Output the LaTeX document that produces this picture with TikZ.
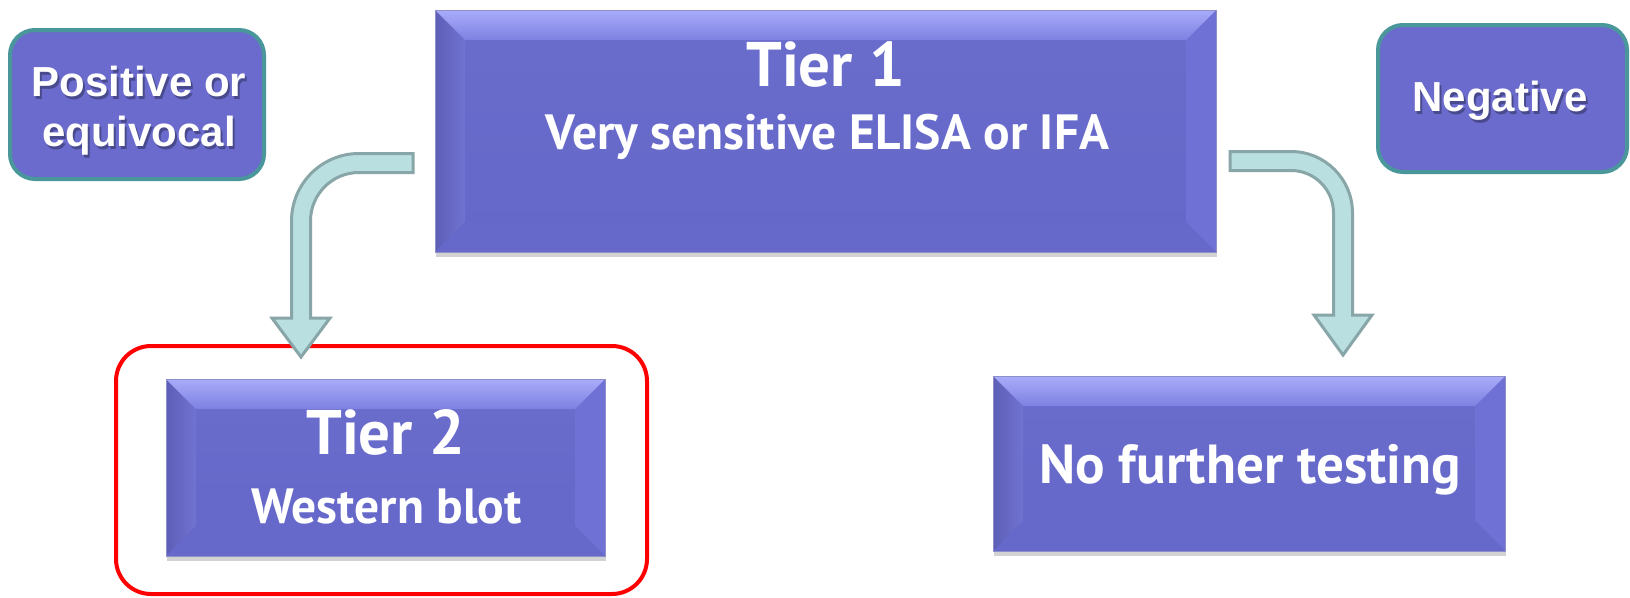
\documentclass[tikz,border=0pt]{standalone}
\usepackage{fontspec}
\usetikzlibrary{calc,shadows}
\newfontfamily\tierfont{PT Sans}
\newfontfamily\outfont{Liberation Sans}

\definecolor{tierfill}{HTML}{6B6DCC}
\definecolor{tierlow}{HTML}{6567C9}
\definecolor{tieredge}{HTML}{8E8FC8}
\definecolor{bevhi}{HTML}{A9ACFA}
\definecolor{bevtop}{HTML}{7E81E0}
\definecolor{bevleft}{HTML}{5D5EB6}
\definecolor{bevlefti}{HTML}{7173D1}
\definecolor{bevright}{HTML}{6F71D5}
\definecolor{bevbot}{HTML}{6668CA}
\definecolor{outfill}{HTML}{6A6BCC}
\definecolor{outedge}{HTML}{4A979B}
\definecolor{arrowfill}{HTML}{B9DFE1}
\definecolor{arrowedge}{HTML}{88A6A7}

\tikzset{
	tierbox/.style={rectangle, top color=tierfill, bottom color=tierlow, draw=tieredge, line width=0.8pt, inner sep=0pt,
		drop shadow={shadow xshift=1pt, shadow yshift=-5pt, opacity=0.25, fill=black!70},
		path picture={
			\coordinate (bsw) at (path picture bounding box.south west);
			\coordinate (bne) at (path picture bounding box.north east);
			\coordinate (bnw) at (bsw |- bne);
			\coordinate (bse) at (bne |- bsw);
			\shade[left color=bevleft, right color=bevlefti] (bnw) -- ($(bnw)+(30,-30)$) -- ($(bsw)+(30,30)$) -- (bsw) -- cycle;
			\fill[bevright] (bne) -- ($(bne)+(-30,-30)$) -- ($(bse)+(-30,30)$) -- (bse) -- cycle;
			\fill[bevbot] (bsw) -- ($(bsw)+(30,30)$) -- ($(bse)+(-30,30)$) -- (bse) -- cycle;
			\shade[top color=bevhi, bottom color=bevtop] (bnw) -- (bne) -- ($(bne)+(-30,-30)$) -- ($(bnw)+(30,-30)$) -- cycle;
		}},
	tiertitle/.style={text=white, font=\tierfont\bfseries\fontsize{63}{70}\selectfont, anchor=base, inner sep=0pt},
	tiersub/.style={text=white, font=\tierfont\bfseries\fontsize{49.5}{56}\selectfont, anchor=base, inner sep=0pt},
	outcome/.style={rectangle, rounded corners=25pt, fill=outfill, draw=outedge, line width=4pt, inner sep=0pt},
	outtext/.style={text=white, font=\outfont\bfseries\fontsize{42}{50}\selectfont, align=center, inner sep=0pt},
	outshadow/.style={outtext, text=black, opacity=0.3},
	blockarrow/.style={fill=arrowfill, draw=arrowedge, line width=3pt, line join=miter},
}

\begin{document}
\begin{tikzpicture}[x=1pt,y=1pt]
	\fill[white] (0,0) rectangle (1630,-597);
	\useasboundingbox (0,0) rectangle (1630,-597);

	% boxes
	\node[tierbox, minimum width=781, minimum height=242] (tier1) at (825.5,-131) {};
	\node[tierbox, minimum width=439, minimum height=177] (tier2) at (385.5,-467.5) {};
	\node[tierbox, minimum width=512, minimum height=175] (nofurther) at (1249,-463.5) {};
	\node[draw=red, line width=4pt, rounded corners=35pt, minimum width=531, minimum height=248] (tier2frame) at (381.5,-470) {};

	\node[outcome, minimum width=254, minimum height=149] (positive) at (137,-104.5) {};
	\node[outcome, minimum width=249, minimum height=147] (negative) at (1502.5,-98.5) {};

	% texts
	\node[tiertitle] (tier1title) at (825.5,-86) {Tier 1};
	\node[tiersub] (tier1test) at (827.5,-149) {Very sensitive ELISA or IFA};
	\node[tiertitle] (tier2title) at (385.5,-454) {Tier 2};
	\node[tiersub] (tier2test) at (386.5,-523) {Western blot};
	\node[tiertitle, font=\tierfont\bfseries\fontsize{55}{60}\selectfont] (nofurthertext) at (1250,-483) {No further testing};

	\node[outshadow] at (141,-114) {Positive or\\equivocal};
	\node[outtext] (positivetext) at (139,-111) {Positive or\\equivocal};
	\node[outshadow, anchor=base] at (1502,-114) {Negative};
	\node[outtext, anchor=base] (negativetext) at (1500,-111) {Negative};

	% arrows
	\coordinate (leftstart) at (413,-163);
	\coordinate (leftbend) at (301,-163);
	\coordinate (lefttip) at (301,-357);
	\coordinate (rightstart) at (1230,-161);
	\coordinate (rightbend) at (1343,-161);
	\coordinate (righttip) at (1343,-355);

	\draw[blockarrow] ($(leftstart)+(0,9.5)$) -- ($(leftbend)+(58,9.5)$)
		arc[start angle=90, end angle=180, radius=67.5]
		-- ($(lefttip)+(-9.5,39)$) -- ($(lefttip)+(-29,39)$) -- (lefttip)
		-- ($(lefttip)+(29,39)$) -- ($(lefttip)+(9.5,39)$) -- ($(leftbend)+(9.5,-58)$)
		arc[start angle=180, end angle=90, radius=48.5]
		-- ($(leftstart)+(0,-9.5)$) -- cycle;
	\draw[blockarrow] ($(rightstart)+(0,9.5)$) -- ($(rightbend)+(-52,9.5)$)
		arc[start angle=90, end angle=0, radius=61.5]
		-- ($(righttip)+(9.5,40)$) -- ($(righttip)+(29,40)$) -- (righttip)
		-- ($(righttip)+(-29,40)$) -- ($(righttip)+(-9.5,40)$) -- ($(rightbend)+(-9.5,-52)$)
		arc[start angle=0, end angle=90, radius=42.5]
		-- ($(rightstart)+(0,-9.5)$) -- cycle;
\end{tikzpicture}
\end{document}
